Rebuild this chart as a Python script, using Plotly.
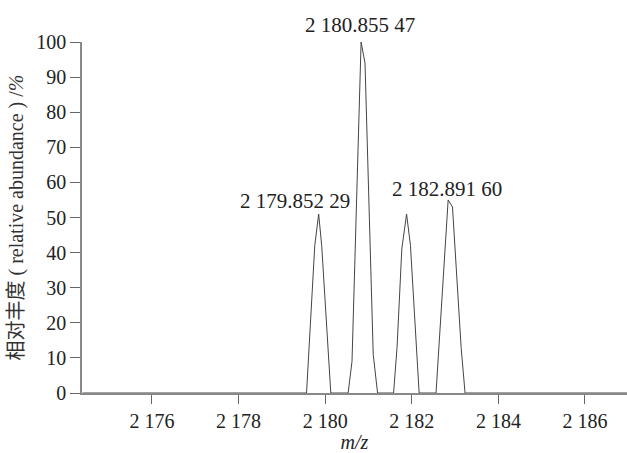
import plotly.graph_objects as go

# spectrum profile (m/z, relative abundance %)
mz = [2174.4, 2179.57, 2179.76, 2179.85, 2179.92, 2180.13,
      2180.53, 2180.62, 2180.83, 2180.92, 2181.11, 2181.21,
      2181.58, 2181.66, 2181.77, 2181.88, 2181.97, 2182.17,
      2182.56, 2182.84, 2182.94, 2183.14, 2183.23, 2187.0]
abundance = [0, 0, 42, 51, 42, 0,
             0, 9, 100, 94, 11, 0,
             0, 13, 41, 51, 42, 0,
             0, 55, 53, 13, 0, 0]

# peak labels, anchored at the apex they describe
label_text = ["2 179.852 29", "2 180.855 47", "2 182.891 60"]
label_x = [2179.85, 2180.83, 2182.84]
label_y = [51, 100, 55]

x_tickvals = [2176, 2178, 2180, 2182, 2184, 2186]
x_ticktext = ["2 176", "2 178", "2 180", "2 182", "2 184", "2 186"]
y_tickvals = [0, 10, 20, 30, 40, 50, 60, 70, 80, 90, 100]

serif = "Liberation Serif"
label_shift = [(-24, 13), (-1, 17), (-1.5, 10.5)]

fig = go.Figure()
fig.add_trace(go.Scatter(
    x=mz, y=abundance, mode="lines",
    line=dict(color="#444444", width=1),
    hoverinfo="skip", showlegend=False, cliponaxis=False,
))

for t, x, y, (dx, dy) in zip(label_text, label_x, label_y, label_shift):
    fig.add_annotation(x=x, y=y, text=t, showarrow=False,
                       xanchor="center", yanchor="middle",
                       xshift=dx, yshift=dy,
                       font=dict(family=serif, size=21, color="#222222"))

ytitle = ("<span style='font-family:Noto Sans CJK SC'>相对丰度</span>"
          " ( relative abundance ) /<i>%</i>")

fig.update_layout(
    width=627, height=453,
    margin=dict(l=82, r=0, t=42, b=60),
    paper_bgcolor="white", plot_bgcolor="white",
    font=dict(family=serif, size=20, color="#222222"),
    xaxis=dict(
        range=[2174.385, 2186.97],
        tickvals=x_tickvals, ticktext=x_ticktext,
        ticks="outside", ticklen=9, tickcolor="#666666", tickwidth=1,
        showline=True, linecolor="#888888", linewidth=1.5,
        showgrid=False, zeroline=False,
        tickfont=dict(family=serif, size=20, color="#222222"),
        title=dict(text="<i>m/z</i>", standoff=5,
                   font=dict(family=serif, size=20, color="#222222")),
    ),
    yaxis=dict(
        range=[0, 100],
        tickvals=y_tickvals,
        ticks="outside", ticklen=10, tickcolor="#666666", tickwidth=1,
        showline=True, linecolor="#888888", linewidth=1.5,
        showgrid=False, zeroline=False,
        tickfont=dict(family=serif, size=20, color="#222222"),
        title=dict(text=ytitle, standoff=8,
                   font=dict(family=serif, size=20, color="#333333")),
    ),
)

fig.write_html("out.html", config={"displayModeBar": False},
               post_script="document.body.style.margin='0';document.body.style.overflow='hidden';")
